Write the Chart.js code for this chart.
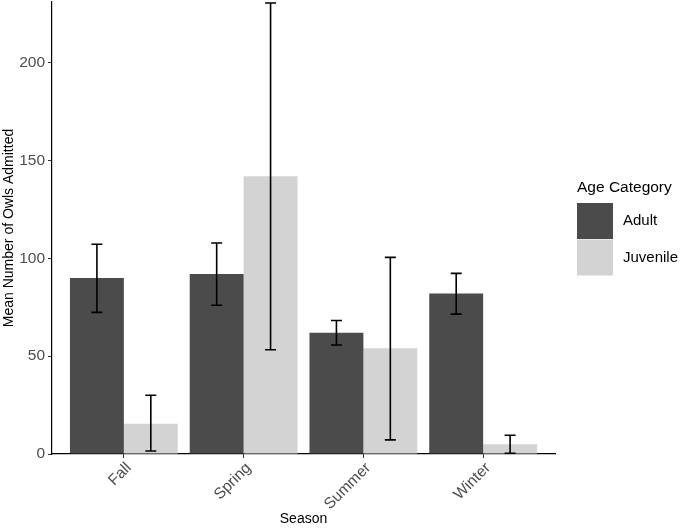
<!DOCTYPE html>
<html>
<head>
<meta charset="utf-8">
<script src="https://cdn.jsdelivr.net/npm/chart.js@4.4.0/dist/chart.umd.min.js"></script>
<style>
  html, body { margin: 0; padding: 0; background: #fff; }
</style>
</head>
<body>
<canvas id="myChart" width="683" height="530"></canvas>
<script>
// seasons on the x axis
const seasons = ["Fall", "Spring", "Summer", "Winter"];

// mean owls admitted
const adultMean = [90, 92, 62, 82];
const juvenileMean = [15.5, 142, 54, 5];

// error bar ends
const adultLow = [72.4, 76, 55.7, 71.5];
const adultHigh = [107.2, 107.8, 68.2, 92.3];
const juvenileLow = [1.5, 53.3, 7.2, 0.4];
const juvenileHigh = [30, 230.5, 100.5, 9.6];

const yTicks = [0, 50, 100, 150, 200];

var font = "'Liberation Sans', Arial, sans-serif";

function points(vals) {
  return vals.map(function (v, i) { return { x: i + 1, y: v }; });
}

// draws the error bars on top of the bars
const errorBars = {
  id: "errorBars",
  afterDatasetsDraw: function (chart) {
    var ctx = chart.ctx;
    var y = chart.scales.y;
    var lows = [adultLow, juvenileLow];
    var highs = [adultHigh, juvenileHigh];
    ctx.save();
    ctx.strokeStyle = "#000";
    ctx.lineWidth = 1.6;
    chart.data.datasets.forEach(function (ds, d) {
      var meta = chart.getDatasetMeta(d);
      meta.data.forEach(function (bar, i) {
        var x = bar.x;
        var y1 = y.getPixelForValue(lows[d][i]);
        var y2 = y.getPixelForValue(highs[d][i]);
        ctx.beginPath();
        ctx.moveTo(x, y1); ctx.lineTo(x, y2);
        ctx.moveTo(x - 5.5, y1); ctx.lineTo(x + 5.5, y1);
        ctx.moveTo(x - 5.5, y2); ctx.lineTo(x + 5.5, y2);
        ctx.stroke();
      });
    });
    ctx.restore();
  }
};

// ggplot-like legend on the right
const sideLegend = {
  id: "sideLegend",
  afterDraw: function (chart) {
    var ctx = chart.ctx;
    ctx.save();
    ctx.textBaseline = "middle";
    ctx.textAlign = "left";
    ctx.fillStyle = "#000";
    ctx.font = "15.5px " + font;
    ctx.fillText("Age Category", 577, 188);
    chart.data.datasets.forEach(function (ds, i) {
      var top = 203 + i * 36.5;
      ctx.fillStyle = ds.backgroundColor;
      ctx.fillRect(577, top, 36, 36);
      ctx.fillStyle = "#000";
      ctx.font = "15px " + font;
      ctx.fillText(ds.label, 623, top + 18);
    });
    ctx.restore();
  }
};

new Chart("myChart", {
  type: "bar",
  data: {
    datasets: [{
      label: "Adult",
      data: points(adultMean),
      backgroundColor: "#4b4b4b",
      categoryPercentage: 0.9,
      barPercentage: 1.0
    }, {
      label: "Juvenile",
      data: points(juvenileMean),
      backgroundColor: "#d3d3d3",
      categoryPercentage: 0.9,
      barPercentage: 1.0
    }]
  },
  options: {
    responsive: false,
    animation: false,
    layout: { padding: { top: 2, right: 128, left: 0, bottom: 0 } },
    plugins: {
      legend: { display: false },
      tooltip: { enabled: false }
    },
    scales: {
      x: {
        type: "linear",
        min: 0.4,
        max: 4.6,
        offset: false,
        afterBuildTicks: function (scale) {
          scale.ticks = seasons.map(function (s, i) { return { value: i + 1 }; });
        },
        afterFit: function (scale) {
          scale.height = 76;
          scale.paddingLeft = 0;
          scale.paddingRight = 0;
        },
        grid: { display: true, offset: false, drawOnChartArea: false, tickLength: 4, tickColor: "#333", tickWidth: 1 },
        border: { display: true, color: "#000", width: 1.2 },
        ticks: {
          autoSkip: false,
          minRotation: 45,
          maxRotation: 45,
          padding: 1,
          labelOffset: 5,
          color: "#4d4d4d",
          font: { family: font, size: 15.5 },
          callback: function (v) { return seasons[v - 1]; }
        },
        title: {
          display: true,
          text: "Season",
          color: "#000",
          font: { family: font, size: 14 },
          padding: { top: 0, bottom: 2 }
        }
      },
      y: {
        min: 0,
        max: 231,
        afterBuildTicks: function (scale) {
          scale.ticks = yTicks.map(function (v) { return { value: v }; });
        },
        afterFit: function (scale) {
          scale.width = 52;
          scale.paddingTop = 0;
          scale.paddingBottom = 0;
        },
        grid: { display: true, drawOnChartArea: false, tickLength: 4, tickColor: "#333", tickWidth: 1 },
        border: { display: true, color: "#000", width: 1.2 },
        ticks: {
          padding: 3,
          color: "#4d4d4d",
          font: { family: font, size: 15.5 }
        },
        title: {
          display: true,
          text: "Mean Number of Owls Admitted",
          color: "#000",
          font: { family: font, size: 14 },
          padding: { top: 1, bottom: 0 }
        }
      }
    }
  },
  plugins: [errorBars, sideLegend]
});
</script>
</body>
</html>
